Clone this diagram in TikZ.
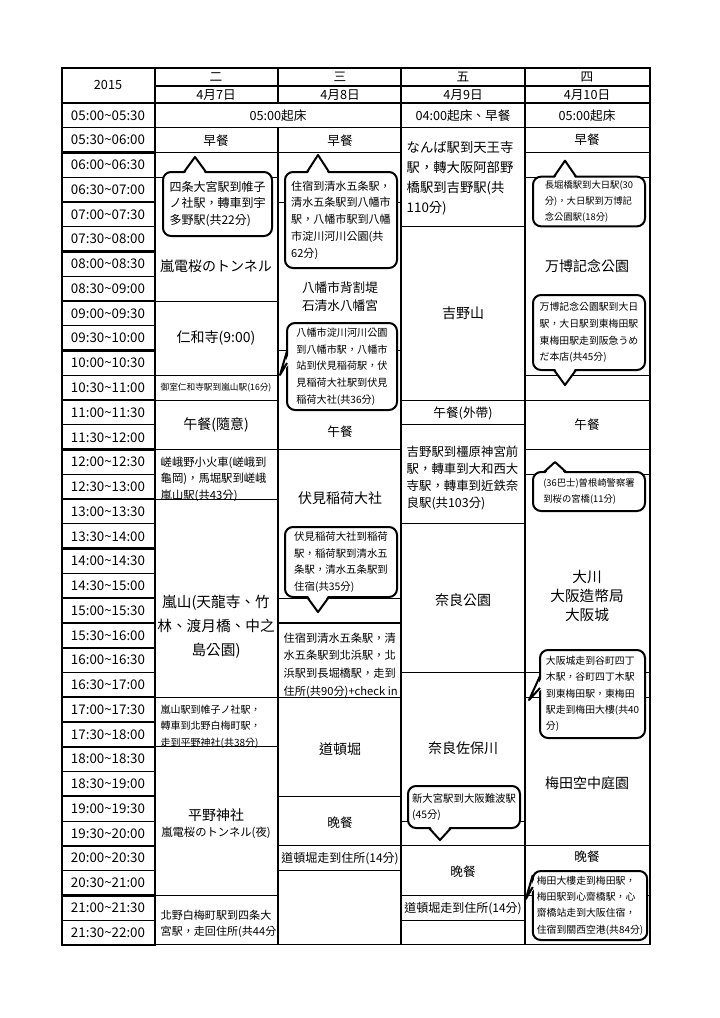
\documentclass[tikz,border=0pt]{standalone}
\usepackage{fontspec}
\setmainfont{Noto Sans CJK TC}
\usetikzlibrary{calc,positioning}
\newcommand\twodig[1]{\ifnum#1<10 0\fi#1}
\newcommand\fs[2]{\fontsize{#1}{#2}\selectfont}
% pointers of the callouts
\newcommand\tipup[3]{%
  \fill[white] ($(#1.north west)+(#2-11,3)$) -- ($(#1.north west)+(#2,-#3)$) -- ($(#1.north west)+(#2+11,3)$) -- cycle;
  \draw[tip] ($(#1.north west)+(#2-11,0)$) -- ($(#1.north west)+(#2,-#3)$) -- ($(#1.north west)+(#2+11,0)$);}
\newcommand\tipdown[3]{%
  \fill[white] ($(#1.south west)+(#2-11,-3)$) -- ($(#1.south west)+(#2,#3)$) -- ($(#1.south west)+(#2+11,-3)$) -- cycle;
  \draw[tip] ($(#1.south west)+(#2-11,0)$) -- ($(#1.south west)+(#2,#3)$) -- ($(#1.south west)+(#2+11,0)$);}
\newcommand\tipleft[3]{%
  \fill[white] ($(#1.north west)+(3,#2-12)$) -- ($(#1.north west)+(-#3,#2+12)$) -- ($(#1.north west)+(3,#2)$) -- cycle;
  \draw[tip] ($(#1.north west)+(0,#2-12)$) -- ($(#1.north west)+(-#3,#2+12)$) -- ($(#1.north west)+(0,#2)$);}

\begin{document}
\begin{tikzpicture}[
    x=0.75pt, y=-0.75pt,
    declare function={ry(\i)=103+24.76*\i;},
    grid/.style={draw, line width=0.8pt},
    hourbox/.style={draw, line width=1.8pt},
    callout/.style={draw, line width=1.5pt, fill=white, rounded corners=6pt,
        outer sep=0pt, inner sep=3pt, align=left},
    tip/.style={line width=1.5pt, line join=round},
    big/.style={font=\fs{10.5}{16}, align=center},
    mid/.style={font=\fs{9.5}{13}, align=center},
    ]
  \useasboundingbox (0,0) rectangle (720,1018);

  % Header
  \draw[grid] (62,68) rectangle (650,103);
  \draw[grid] (155,68) -- (155,103) (278,68) -- (278,103) (401,68) -- (401,103) (525,68) -- (525,103);
  \draw[grid] (155,86) -- (650,86);
  \node[mid] (year) at (108,85) {2015};
  \node[mid] (d1) at (216,77) {二};  \node[mid] (t1) at (216,95) {4月7日};
  \node[mid] (d2) at (340,77) {三};  \node[mid] (t2) at (340,95) {4月8日};
  \node[mid] (d3) at (463,77) {五};  \node[mid] (t3) at (463,95) {4月9日};
  \node[mid] (d4) at (587,77) {四};  \node[mid] (t4) at (587,95) {4月10日};

  % Time column
  \foreach \i in {0,...,33}{
    \pgfmathtruncatemacro\h{5+floor(\i/2)}
    \pgfmathtruncatemacro\m{mod(\i,2)}
    \pgfmathtruncatemacro\hh{\h+\m}
    \draw[grid] (62,{ry(\i)}) rectangle (155,{ry(\i+1)});
    \node[font=\fs{10}{12}] (time\i) at (108,{ry(\i+0.5)})
      {\twodig{\h}:\ifnum\m=0 00\else30\fi\textasciitilde\twodig{\hh}:\ifnum\m=0 30\else00\fi};
  }
  \foreach \k in {0,...,16}
    \draw[hourbox] (62,{ry(2*\k)}) rectangle (155,{ry(2*\k+2)});

  % Column 二
  \draw[grid] (155,{ry(0)}) rectangle (401,{ry(1)});
  \foreach \a/\b in {1/2,2/8,8/11,11/12,12/14,14/16,16/24,24/26,26/32,32/34}
    \draw[grid] (155,{ry(\a)}) rectangle (278,{ry(\b)});
  \draw[grid] (155,{ry(3)}) -- (278,{ry(3)});
  \node[mid] (wake1) at (278,116) {05:00起床};
  \node[mid] (bf1) at (216,141) {早餐};
  \node[big] (tunnel) at (216,266) {嵐電桜のトンネル};
  \node[big] (ninna) at (216,338) {仁和寺(9:00)};
  \node[font=\fs{6.5}{8}] (omuro) at (216,388) {御室仁和寺駅到嵐山駅(16分)};
  \node[big] (lunch1) at (216,425) {午餐(隨意)};
  \node[font=\fs{8.5}{12.3}, align=left, anchor=north west] (sagano) at (156,452)
    {嵯峨野小火車(嵯峨到\\龜岡)，馬堀駅到嵯峨\\嵐山駅(共43分)};
  \node[font=\fs{11}{18}, align=center] (arashi) at (216,627)
    {嵐山(天龍寺、竹\\林、渡月橋、中之\\島公園)};
  \node[font=\fs{7.5}{12.5}, align=left, anchor=north west] (kata) at (156,700)
    {嵐山駅到帷子ノ社駅，\\轉車到北野白梅町駅，\\走到平野神社(共38分)};
  \node[big] (hirano) at (216,815) {平野神社};
  \node[font=\fs{8.5}{10}] (night) at (216,833) {嵐電桜のトンネル(夜)};
  \node[font=\fs{8.3}{12.7}, align=left, anchor=north west] (kitano) at (156,905)
    {北野白梅町駅到四条大\\宮駅，走回住所(共44分)};

  % Column 三
  \foreach \a/\b in {1/2,2/4,4/10,10/14,14/20,20/21,21/24,24/28,28/30,30/31,31/34}
    \draw[grid] (278,{ry(\a)}) rectangle (401,{ry(\b)});
  \node[mid] (bf2) at (340,141) {早餐};
  \node[font=\fs{9.5}{13.5}, align=center] (yawata) at (340,297) {八幡市背割堤\\石清水八幡宮};
  \node[mid] (lunch2) at (340,432) {午餐};
  \node[big] (fushimi) at (340,498) {伏見稲荷大社};
  \node[font=\fs{8.4}{13.3}, align=left, anchor=north west] (stay) at (279,628)
    {住宿到清水五条駅，清\\水五条駅到北浜駅，北\\浜駅到長堀橋駅，走到\\住所(共90分)+check in};
  \node[big] (dotonbori) at (340,749) {道頓堀};
  \node[mid] (dinner2) at (340,823) {晚餐};
  \node[font=\fs{9}{11}] (walk2) at (340,859) {道頓堀走到住所(14分)};

  % Column 五
  \foreach \a/\b in {0/1,1/5,5/12,12/13,13/17,17/23,23/30,30/32,32/33,33/34}
    \draw[grid] (401,{ry(\a)}) rectangle (525,{ry(\b)});
  \draw[grid] (401,{ry(29)}) -- (525,{ry(29)});
  \node[mid] (wake3) at (463,116) {04:00起床、早餐};
  \node[font=\fs{10}{15}, align=left, anchor=north west] (namba) at (402,137)
    {なんば駅到天王寺\\駅，轉大阪阿部野\\橋駅到吉野駅(共\\110分)};
  \node[big] (yoshino) at (463,313) {吉野山};
  \node[mid] (lunch3) at (463,413) {午餐(外帶)};
  \node[font=\fs{9.3}{12.8}, align=left, anchor=north west] (kashi) at (402,441)
    {吉野駅到橿原神宮前\\駅，轉車到大和西大\\寺駅，轉車到近鉄奈\\良駅(共103分)};
  \node[big] (narapark) at (463,600) {奈良公園};
  \node[big] (sahogawa) at (463,748) {奈良佐保川};
  \node[mid] (dinner3) at (463,872) {晚餐};
  \node[font=\fs{9}{11}] (walk3) at (463,909) {道頓堀走到住所(14分)};

  % Column 四
  \foreach \a/\b in {0/1,1/2,2/11,11/12,12/14,14/15,15/23,23/30,30/34}
    \draw[grid] (525,{ry(\a)}) rectangle (650,{ry(\b)});
  \draw[grid] (525,{ry(3)}) -- (650,{ry(3)}) (525,{ry(24)}) -- (650,{ry(24)}) (525,{ry(32)}) -- (650,{ry(32)});
  \node[mid] (wake4) at (587,116) {05:00起床};
  \node[mid] (bf4) at (587,140) {早餐};
  \node[big] (expo) at (587,266) {万博記念公園};
  \node[mid] (lunch4) at (587,425) {午餐};
  \node[font=\fs{11}{14.5}, align=center] (osaka) at (587,596) {大川\\大阪造幣局\\大阪城};
  \node[big] (umeda) at (587,783) {梅田空中庭園};
  \node[mid] (dinner4) at (587,857) {晚餐};

  % Callouts
  \node[callout, font=\fs{9}{12.5}, minimum width=109*0.75pt, minimum height=64*0.75pt] (omiya) at (217.5,204)
    {四条大宮駅到帷子\\ノ社駅，轉車到宇\\多野駅(共22分)};
  \tipup{omiya}{32}{15}
  \node[callout, font=\fs{8.3}{12.6}, minimum width=112*0.75pt, minimum height=96*0.75pt] (kiyomizu) at (341,220)
    {住宿到清水五条駅，\\清水五条駅到八幡市\\駅，八幡市駅到八幡\\市淀川河川公園(共\\62分)};
  \tipup{kiyomizu}{33}{17}
  \node[callout, font=\fs{7.6}{12.5}, minimum width=110*0.75pt, minimum height=87*0.75pt] (yodo) at (342,366.5)
    {八幡市淀川河川公園\\到八幡市駅，八幡市\\站到伏見稲荷駅，伏\\見稲荷大社駅到伏見\\稲荷大社(共36分)};
  \tipleft{yodo}{40}{7}
  \node[callout, font=\fs{7.8}{12.5}, minimum width=112*0.75pt, minimum height=70*0.75pt] (inari) at (341,562)
    {伏見稲荷大社到稲荷\\駅，稲荷駅到清水五\\条駅，清水五条駅到\\住宿(共35分)};
  \tipdown{inari}{33}{15}
  \node[callout, font=\fs{7.8}{12.5}, minimum width=112*0.75pt, minimum height=42*0.75pt] (shinomiya) at (464,807)
    {新大宮駅到大阪難波駅\\(45分)};
  \tipdown{shinomiya}{32}{12}
  \node[callout, font=\fs{7}{12}, minimum width=112*0.75pt, minimum height=47*0.75pt] (nagahori) at (589,201.5)
    {長堀橋駅到大日駅(30\\分)，大日駅到万博記\\念公園駅(18分)};
  \tipup{nagahori}{32}{16}
  \node[callout, font=\fs{7.4}{12.5}, minimum width=112*0.75pt, minimum height=75*0.75pt] (hankyu) at (589,332.5)
    {万博記念公園駅到大日\\駅，大日駅到東梅田駅\\東梅田駅走到阪急うめ\\だ本店(共45分)};
  \tipdown{hankyu}{32}{15}
  \node[callout, font=\fs{7}{12}, minimum width=112*0.75pt, minimum height=39*0.75pt] (bus) at (589,491.5)
    {(36巴士)曽根崎警察署\\到桜の宮橋(11分)};
  \tipup{bus}{22}{10}
  \node[callout, font=\fs{7.4}{12.3}, minimum width=105*0.75pt, minimum height=88*0.75pt] (tanimachi) at (592.5,694)
    {大阪城走到谷町四丁\\木駅，谷町四丁木駅\\到東梅田駅，東梅田\\駅走到梅田大樓(共40\\分)};
  \tipleft{tanimachi}{38}{11}
  \node[callout, font=\fs{7.4}{12.3}, minimum width=110*0.75pt, minimum height=69*0.75pt] (kansai) at (590,905.5)
    {梅田大樓走到梅田駅，\\梅田駅到心齋橋駅，心\\齋橋站走到大阪住宿，\\住宿到關西空港(共84分)};
  \tipleft{kansai}{16}{7}
\end{tikzpicture}
\end{document}
